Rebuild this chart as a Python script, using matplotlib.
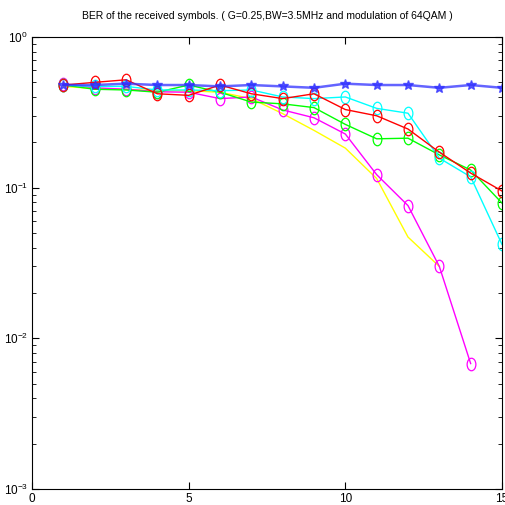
import numpy as np
import matplotlib
matplotlib.use('Agg')
import matplotlib.pyplot as plt
from matplotlib import font_manager
from matplotlib.path import Path
from matplotlib.transforms import Affine2D

# Daten
x = np.arange(1, 16)
x_y = np.arange(1, 14)
x_m = np.arange(1, 15)

ber_blue = [0.48, 0.48, 0.49, 0.48, 0.48, 0.47, 0.48, 0.47, 0.46, 0.49, 0.48, 0.48, 0.46, 0.48, 0.46]
ber_red = [0.48, 0.50, 0.52, 0.42, 0.41, 0.48, 0.42, 0.39, 0.42, 0.33, 0.30, 0.245, 0.172, 0.125, 0.095]
ber_cyan = [0.48, 0.47, 0.47, 0.445, 0.445, 0.44, 0.445, 0.40, 0.39, 0.40, 0.336, 0.312, 0.157, 0.118, 0.042]
ber_green = [0.48, 0.45, 0.445, 0.43, 0.48, 0.43, 0.37, 0.36, 0.34, 0.263, 0.211, 0.213, 0.165, 0.131, 0.079]
ber_magenta = [0.49, 0.46, 0.45, 0.433, 0.43, 0.39, 0.40, 0.328, 0.291, 0.227, 0.122, 0.076, 0.030, 0.0068]
ber_yellow = [0.47, 0.455, 0.45, 0.44, 0.44, 0.43, 0.39, 0.31, 0.24, 0.183, 0.115, 0.047, 0.030]

title = 'BER of the received symbols. ( G=0.25,BW=3.5MHz and modulation of 64QAM )'

names = {f.name for f in font_manager.fontManager.ttflist}
fam = 'Liberation Sans Narrow' if 'Liberation Sans Narrow' in names else 'Liberation Sans'
plt.rcParams['font.family'] = [fam, 'DejaVu Sans']

# gestauchter Kreis (Marker im Original sind hoeher als breit)
ell = Path.unit_circle().transformed(Affine2D().scale(0.7, 1.0))

fig = plt.figure(figsize=(5.05, 5.05), dpi=100)
ax = fig.add_axes([32 / 505, 16 / 505, 470 / 505, 452 / 505])

mk = dict(marker=ell, markersize=9, markerfacecolor='none', markeredgewidth=0.9, linewidth=1.0)
ax.semilogy(x_y, ber_yellow, color='#ffff00', linewidth=1.0)
ax.semilogy(x_m, ber_magenta, color='#ff00ff', **mk)
ax.semilogy(x, ber_green, color='#00ff00', **mk)
ax.semilogy(x, ber_cyan, color='#00ffff', **mk)
ax.semilogy(x, ber_red, color='#ff0000', **mk)
ax.semilogy(x, ber_blue, color='#3030ff', marker='*', markersize=7, linewidth=1.8, alpha=0.75)

ax.set_xlim(0, 15)
ax.set_ylim(1e-3, 1)
ax.set_xticks([0, 5, 10, 15])
ax.tick_params(which='both', direction='in', top=True, right=True, labelsize=8.5, pad=3)
ax.tick_params(which='major', length=5)
ax.tick_params(which='minor', length=3)
ax.set_title(title, fontsize=7.5, pad=13)

plt.savefig('out.png', dpi=100)
